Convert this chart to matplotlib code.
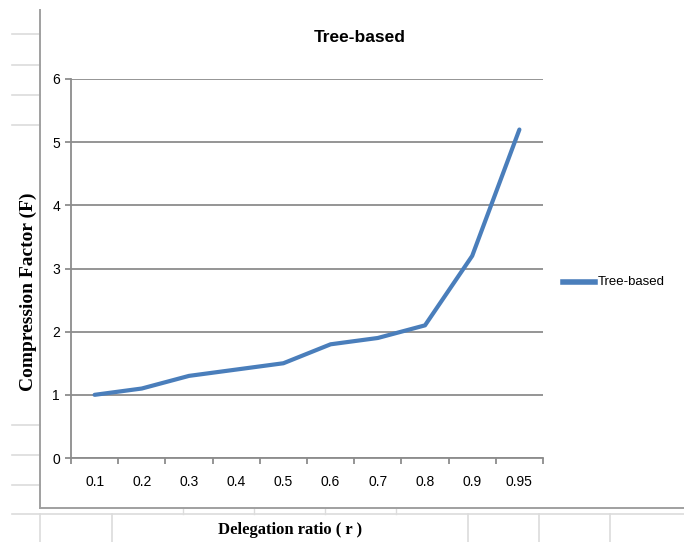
import matplotlib.pyplot as plt
from matplotlib.lines import Line2D

# data
ratios = ['0.1', '0.2', '0.3', '0.4', '0.5', '0.6', '0.7', '0.8', '0.9', '0.95']
factor = [1.0, 1.1, 1.3, 1.4, 1.5, 1.8, 1.9, 2.1, 3.2, 5.2]

W, H = 684, 542
narrow = ['Liberation Sans Narrow', 'Liberation Sans', 'DejaVu Sans']
serif = ['Liberation Serif', 'DejaVu Serif']

fig = plt.figure(figsize=(W / 100, H / 100), dpi=100)

def px(x0, y0, x1, y1, color, lw):
    # line in pixel coords of the picture (y from top)
    fig.add_artist(Line2D([x0 / W, x1 / W], [1 - y0 / H, 1 - y1 / H],
                          transform=fig.transFigure, color=color, lw=lw))

# spreadsheet cells behind the pasted chart
cell = '#dcdcdc'
for y in [34, 65, 95, 125, 425, 455, 485]:
    px(12, y, 40, y, cell, 1.2)
px(12, 514, W, 514, cell, 1.2)
for x in [40, 112, 468, 539, 610]:
    px(x, 514, x, H, cell, 1.2)
for x in [183, 254, 325, 396]:
    px(x, 508, x, 514, cell, 1.0)

# chart frame
px(40, 10, 40, 508, '#a0a0a0', 1.4)
px(40, 508, W, 508, '#a0a0a0', 1.4)

ax = fig.add_axes([71 / W, 1 - 458 / H, (543 - 71) / W, (458 - 79) / H])
x = list(range(len(ratios)))
ax.plot(x, factor, color='#4a7ebb', lw=3, solid_capstyle='round', label='Tree-based')

ax.set_xlim(-0.5, len(ratios) - 0.5)
ax.set_ylim(0, 6)
ax.set_yticks(range(0, 7))
ax.yaxis.grid(True, color='#8c8c8c', lw=1.3)
ax.set_axisbelow(True)
for s in ['top', 'right']:
    ax.spines[s].set_visible(False)
for s in ['left', 'bottom']:
    ax.spines[s].set_color('#8c8c8c')
    ax.spines[s].set_linewidth(1.3)

ax.set_xticks(x)
ax.set_xticklabels(ratios)
ax.set_xticks([i - 0.5 for i in range(len(ratios) + 1)], minor=True)
ax.tick_params(axis='x', which='major', length=0, pad=12, labelsize=10)
ax.tick_params(axis='x', which='minor', length=4, color='#8c8c8c', width=1.3)
ax.tick_params(axis='y', length=4, color='#8c8c8c', width=1.3, pad=4, labelsize=10)
for t in ax.get_xticklabels() + ax.get_yticklabels():
    t.set_family(narrow)

fig.text(360 / W, 1 - 38 / H, 'Tree-based', ha='center', va='center',
         fontsize=12.5, fontweight='bold', family=narrow)
fig.text(28 / W, 1 - 292 / H, 'Compression Factor (F)', ha='center', va='center',
         rotation=90, fontsize=14, fontweight='bold', family=serif)
fig.text(290 / W, 1 - 530 / H, 'Delegation ratio ( r )', ha='center', va='center',
         fontsize=12, fontweight='bold', family=serif)

# legend on the right
px(563, 282, 595, 282, '#4a7ebb', 4)
fig.text(598 / W, 1 - 282 / H, 'Tree-based', ha='left', va='center',
         fontsize=9.5, family=narrow)

fig.savefig('out.png', dpi=100, facecolor='white')
